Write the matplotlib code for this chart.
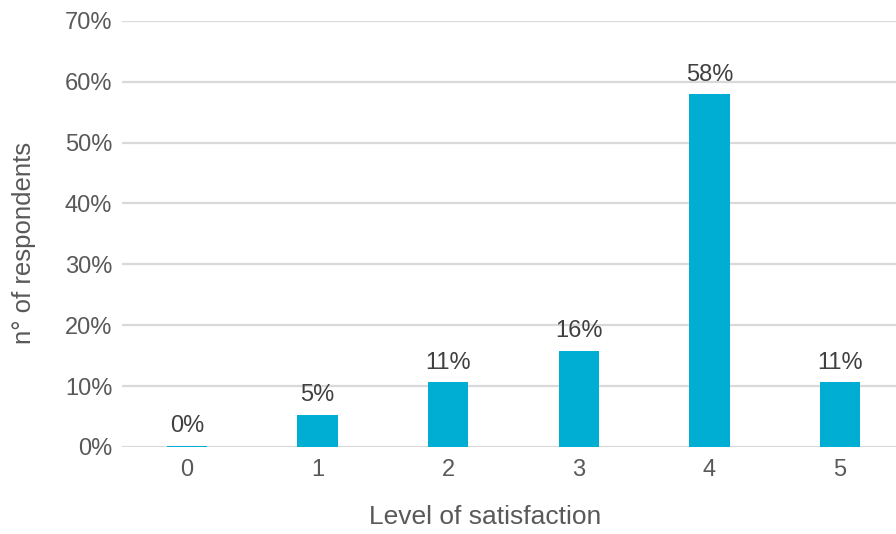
import matplotlib
matplotlib.use("Agg")
import matplotlib.pyplot as plt
from matplotlib.ticker import FuncFormatter, MultipleLocator

plt.rcParams['font.family'] = ['Liberation Sans', 'DejaVu Sans']

levels = [0, 1, 2, 3, 4, 5]
share = [0.2, 5.3, 10.6, 15.8, 57.9, 10.6]  # % of respondents

bar_color = "#00AED4"
text_color = "#595959"
label_color = "#404040"
grid_color = "#D9D9D9"

W, H = 896, 534
fig = plt.figure(figsize=(W / 100, H / 100), dpi=100)
ax = fig.add_axes([0.136, 0.163, 0.864, 0.798])

bars = ax.bar(levels, share, width=0.31, color=bar_color, zorder=3)

for x, v in zip(levels, share):
    ax.annotate(f"{v:.0f}%", (x, v), xytext=(0, 6), textcoords="offset points",
                ha="center", va="bottom", fontsize=17, color=label_color)

ax.set_ylim(0, 70)
ax.set_xlim(-0.5, 5.43)
ax.yaxis.set_major_locator(MultipleLocator(10))
ax.yaxis.set_major_formatter(FuncFormatter(lambda v, p: f"{v:.0f}%"))
ax.set_xticks(levels)
ax.set_xticklabels([str(l) for l in levels])

ax.grid(axis="y", color=grid_color, linewidth=1.6, zorder=0)
ax.set_axisbelow(True)
for s in ax.spines.values():
    s.set_visible(False)
ax.tick_params(axis="both", length=0, labelsize=17, colors=text_color)
ax.tick_params(axis="x", pad=9)
ax.tick_params(axis="y", pad=7)

# axis titles placed in figure pixels
fig.text(485 / W, 1 - 517 / H, "Level of satisfaction", fontsize=19,
         color=text_color, ha="center", va="center")
fig.text(24 / W, 1 - 243 / H, "n° of respondents", fontsize=18.5,
         color=text_color, ha="center", va="center", rotation=90)

fig.savefig("out.png", dpi=100)
